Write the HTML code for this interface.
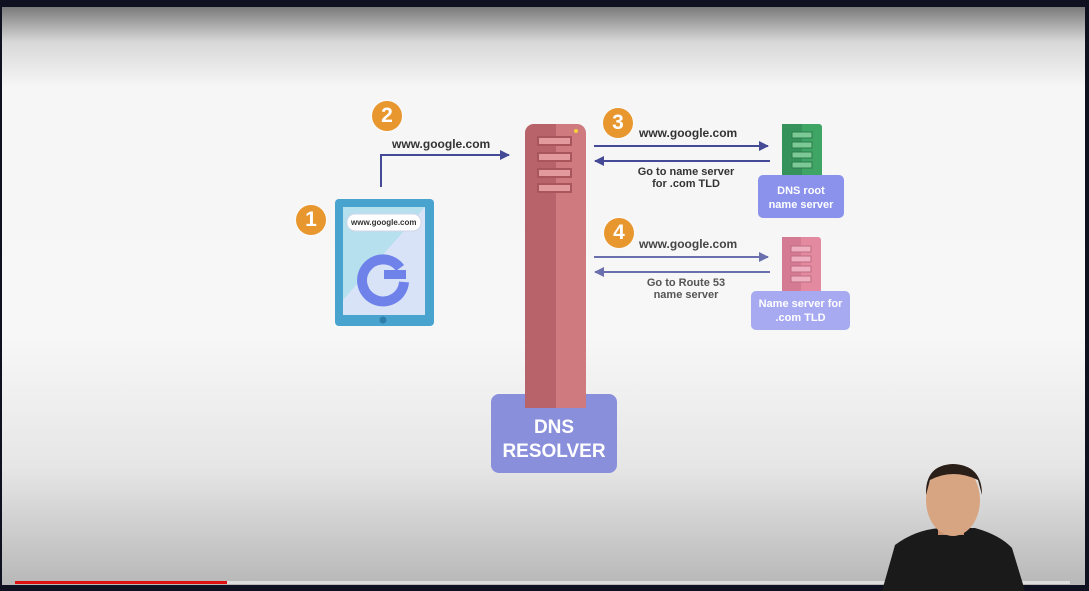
<!DOCTYPE html>
<html><head><meta charset="utf-8"><style>
body{margin:0;width:1089px;height:591px;overflow:hidden;background:#0f1020;font-family:"Liberation Sans",sans-serif}
#f{position:absolute;left:2px;top:7px;width:1083px;height:578px;background:linear-gradient(#7a7a7a 0px,#d8d8d8 35px,#f6f6f6 80px,#f7f7f7 330px,#e6e6e6 460px,#b9b9b9 575px)}
.a{position:absolute}
.t{position:absolute;font-weight:bold;color:#333;font-size:12px;text-align:center;white-space:nowrap}
.c{position:absolute;width:30px;height:30px;border-radius:50%;background:#e8962e;color:#fff;font-weight:bold;font-size:21px;line-height:30px;text-align:center;box-shadow:0 0 3px #fff}
</style></head><body>
<div id="f"></div>
<svg class="a" style="left:0;top:0" width="1089" height="591">
<defs><marker id="m" markerWidth="10" markerHeight="10" refX="9" refY="5" orient="auto" markerUnits="userSpaceOnUse"><path d="M0,0L10,5L0,10z" fill="#444a96"/></marker>
<marker id="m2" markerWidth="10" markerHeight="10" refX="9" refY="5" orient="auto" markerUnits="userSpaceOnUse"><path d="M0,0L10,5L0,10z" fill="#6a6fae"/></marker></defs>
<polyline points="381,187 381,155 509,155" fill="none" stroke="#444a96" stroke-width="2" marker-end="url(#m)"/>
<line x1="594" y1="146" x2="768" y2="146" stroke="#444a96" stroke-width="2" marker-end="url(#m)"/>
<line x1="770" y1="161" x2="595" y2="161" stroke="#444a96" stroke-width="2" marker-end="url(#m)"/>
<line x1="594" y1="257" x2="768" y2="257" stroke="#6a6fae" stroke-width="2" marker-end="url(#m2)"/>
<line x1="770" y1="272" x2="595" y2="272" stroke="#6a6fae" stroke-width="2" marker-end="url(#m2)"/>
<!-- resolver -->
<rect x="491" y="394" width="126" height="79" rx="8" fill="#8a8fdb"/>
<path d="M525,408V133a9,9 0 0 1 9,-9H577a9,9 0 0 1 9,9V408z" fill="#cf7a7e"/>
<path d="M525,408V133a9,9 0 0 1 9,-9H556V408z" fill="#b8636a"/>
<circle cx="576" cy="131" r="2" fill="#f3d23a"/>
<g fill="#e39a9c" stroke="#a8555b" stroke-width="2"><rect x="538" y="137" width="33" height="8"/><rect x="538" y="153" width="33" height="8"/><rect x="538" y="169" width="33" height="8"/><rect x="538" y="184" width="33" height="8"/></g>
<!-- tablet -->
<rect x="335" y="199" width="99" height="127" rx="4" fill="#49a3cf"/>
<rect x="343" y="207" width="82" height="108" fill="#d8e3f7"/>
<path d="M343,207H425L343,300z" fill="#b7e0ef"/>
<rect x="347" y="214" width="74" height="17" rx="8" fill="#fff" stroke="#cfd6e6"/>
<circle cx="383" cy="320" r="3.5" fill="#2d7ea8"/>
<path d="M400,268 A21,21 0 1 0 404,282" fill="none" stroke="#6f82ea" stroke-width="10"/>
<rect x="384" y="270" width="22" height="9" fill="#6f82ea"/>
<!-- green -->
<rect x="782" y="124" width="40" height="55" rx="3" fill="#3fa565"/>
<rect x="782" y="124" width="20" height="55" fill="#34925a"/>
<g fill="#7cc996" stroke="#2a7a4a"><rect x="792" y="132" width="20" height="6"/><rect x="792" y="142" width="20" height="6"/><rect x="792" y="152" width="20" height="6"/><rect x="792" y="162" width="20" height="6"/></g>
<rect x="758" y="175" width="86" height="43" rx="5" fill="#8a92ec"/>
<!-- pink -->
<rect x="782" y="237" width="39" height="58" rx="3" fill="#e48aa0"/>
<rect x="782" y="237" width="19" height="58" fill="#d47a92"/>
<g fill="#eeb0c0" stroke="#c06a80"><rect x="791" y="246" width="20" height="6"/><rect x="791" y="256" width="20" height="6"/><rect x="791" y="266" width="20" height="6"/><rect x="791" y="276" width="20" height="6"/></g>
<rect x="751" y="291" width="99" height="39" rx="5" fill="#a7aaf0"/>
<!-- progress -->
<rect x="15" y="581" width="1055" height="3" fill="#ddd"/>
<rect x="15" y="581" width="212" height="3" fill="#e01010"/>
<!-- person -->
<path d="M882,591 L895,545 Q915,530 940,528 L975,528 Q1000,535 1012,548 L1025,591z" fill="#1a1a1a"/>
<rect x="938" y="515" width="26" height="20" fill="#c89070"/>
<ellipse cx="953" cy="500" rx="27" ry="36" fill="#d8a583"/>
<path d="M926,495 Q925,465 953,464 Q982,465 982,495 L978,480 Q953,468 930,480z" fill="#2a1e18"/>
</svg>
<div class="c" style="left:296px;top:205px">1</div>
<div class="c" style="left:372px;top:101px">2</div>
<div class="c" style="left:603px;top:108px">3</div>
<div class="c" style="left:604px;top:218px">4</div>
<div class="t" style="left:392px;top:137px">www.google.com</div>
<div class="t" style="left:351px;top:218px;font-size:8px">www.google.com</div>
<div class="t" style="left:639px;top:126px">www.google.com</div>
<div class="t" style="left:626px;top:166px;width:120px;font-size:11px;line-height:12px">Go to name server<br>for .com TLD</div>
<div class="t" style="left:639px;top:237px;color:#444">www.google.com</div>
<div class="t" style="left:626px;top:277px;width:120px;font-size:11px;line-height:12px;color:#555">Go to Route 53<br>name server</div>
<div class="t" style="left:758px;top:184px;width:86px;color:#fff;font-size:11px;line-height:14px">DNS root<br>name server</div>
<div class="t" style="left:751px;top:297px;width:99px;color:#fff;font-size:11px;line-height:14px">Name server for<br>.com TLD</div>
<div class="t" style="left:491px;top:416px;width:126px;color:#fff;font-size:19px;line-height:24px">DNS<br>RESOLVER</div>
</body></html>
